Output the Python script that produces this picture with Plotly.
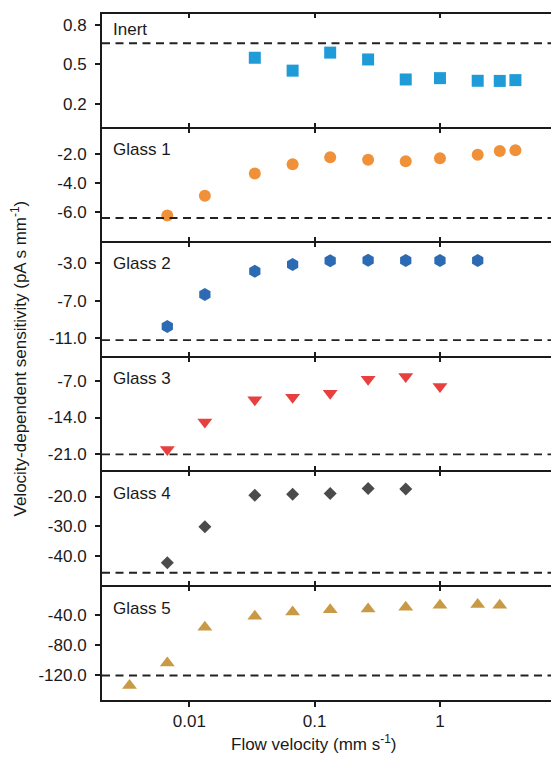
import plotly.graph_objects as go
from plotly.subplots import make_subplots

# ---- data -------------------------------------------------------------
panel_names = ["Inert", "Glass 1", "Glass 2", "Glass 3", "Glass 4", "Glass 5"]

inert_x = [0.0333, 0.0667, 0.133, 0.267, 0.533, 1.0, 2.0, 3.0, 4.0]
inert_y = [0.55, 0.452, 0.589, 0.537, 0.385, 0.395, 0.375, 0.374, 0.38]

glass1_x = [0.00667, 0.0133, 0.0333, 0.0667, 0.133, 0.267, 0.533, 1.0, 2.0, 3.0, 4.0]
glass1_y = [-6.23, -4.87, -3.34, -2.71, -2.23, -2.39, -2.50, -2.30, -2.05, -1.79, -1.75]

glass2_x = [0.00667, 0.0133, 0.0333, 0.0667, 0.133, 0.267, 0.533, 1.0, 2.0]
glass2_y = [-9.76, -6.31, -3.82, -3.11, -2.72, -2.65, -2.68, -2.68, -2.68]

glass3_x = [0.00667, 0.0133, 0.0333, 0.0667, 0.133, 0.267, 0.533, 1.0]
glass3_y = [-20.07, -14.83, -10.61, -10.16, -9.40, -6.70, -6.19, -8.08]

glass4_x = [0.00667, 0.0133, 0.0333, 0.0667, 0.133, 0.267, 0.533]
glass4_y = [-42.3, -30.2, -19.56, -19.2, -19.0, -17.3, -17.5]

glass5_x = [0.00333, 0.00667, 0.0133, 0.0333, 0.0667, 0.133, 0.267, 0.533, 1.0, 2.0, 3.0]
glass5_y = [-133.6, -103.9, -56.7, -42.2, -36.3, -33.4, -32.5, -30.3, -27.4, -26.4, -27.4]

# static (zero-velocity) sensitivity of each electrode, drawn as dashed lines
static_level = [0.66, -6.4, -11.2, -21.0, -45.7, -120.5]

x_tickvals = [0.01, 0.1, 1]
x_ticktext = ["0.01", "0.1", "1"]

y_tickvals = [
    [0.2, 0.5, 0.8],
    [-6.0, -4.0, -2.0],
    [-11.0, -7.0, -3.0],
    [-21.0, -14.0, -7.0],
    [-40.0, -30.0, -20.0],
    [-120.0, -80.0, -40.0],
]
y_ticktext = [
    ["0.2", "0.5", "0.8"],
    ["-6.0", "-4.0", "-2.0"],
    ["-11.0", "-7.0", "-3.0"],
    ["-21.0", "-14.0", "-7.0"],
    ["-40.0", "-30.0", "-20.0"],
    ["-120.0", "-80.0", "-40.0"],
]

# ---- styling ----------------------------------------------------------
FONT = "Liberation Sans, Arial, Helvetica, sans-serif"
INK = "#1a1a1a"
FS = 17

series = [
    (inert_x, inert_y, "square", 12, "#1f9bd7"),
    (glass1_x, glass1_y, "circle", 12, "#f0913a"),
    (glass2_x, glass2_y, "hexagon", 13, "#2c6bb4"),
    (glass3_x, glass3_y, "triangle-down", 13, "#e6403f"),
    (glass4_x, glass4_y, "diamond", 10, "#4b4b4b"),
    (glass5_x, glass5_y, "triangle-up", 13, "#c99a46"),
]

y_ranges = [
    [0.02, 0.89],
    [-8.05, -0.18],
    [-12.96, -0.70],
    [-24.16, -2.4],
    [-50.0, -11.4],
    [-152.9, -1.4],
]
label_y = [0.855, 0.808, 0.808, 0.806, 0.803, 0.8]

x_range = [-2.697, 0.886]

fig = make_subplots(rows=6, cols=1, vertical_spacing=0)

for i, (xs, ys, sym, size, color) in enumerate(series):
    row = i + 1
    fig.add_trace(
        go.Scatter(
            x=xs, y=ys, mode="markers",
            marker=dict(symbol=sym, size=size, color=color, line=dict(width=0)),
            showlegend=False, cliponaxis=False,
        ),
        row=row, col=1,
    )
    fig.add_hline(
        y=static_level[i], row=row, col=1,
        line=dict(color="#222222", width=1.8, dash="8px,5.5px"),
    )

    axis_common = dict(
        type="log", range=x_range, autorange=False,
        showgrid=False, zeroline=False,
        showline=True, linecolor=INK,
        tickvals=x_tickvals, ticktext=x_ticktext,
        tickwidth=2, ticklen=5, tickcolor=INK,
    )
    if row < 6:
        # 1px lines: the bottom line of one panel and the top line of the
        # next sit side by side, giving a 2px separator with crossing ticks
        axis_common.update(linewidth=1, mirror="ticks", ticks="inside",
                           showticklabels=False)
    else:
        # last panel: bottom axis with labels and outward ticks
        axis_common.update(linewidth=2, mirror=False, ticks="outside",
                           showticklabels=True,
                           tickfont=dict(family=FONT, size=FS, color=INK))
    fig.update_xaxes(row=row, col=1, **axis_common)

    fig.update_yaxes(
        row=row, col=1,
        range=y_ranges[i], autorange=False,
        showgrid=False, zeroline=False,
        showline=True, linecolor=INK, linewidth=2, mirror=False,
        tickvals=y_tickvals[i], ticktext=y_ticktext[i],
        ticks="outside", ticklen=5, tickwidth=2, tickcolor=INK,
        ticklabelstandoff=5,
        tickfont=dict(family=FONT, size=FS, color=INK),
    )

    fig.add_annotation(
        text=panel_names[i],
        xref=f"x{'' if row == 1 else row} domain",
        yref=f"y{'' if row == 1 else row} domain",
        x=0.02, y=label_y[i], xanchor="left", yanchor="middle",
        showarrow=False, font=dict(family=FONT, size=FS, color=INK),
    )

# top edge of the last panel: inward ticks on a 1px line
fig.update_layout(
    xaxis7=dict(
        type="log", range=x_range, autorange=False,
        overlaying="x6", anchor="y6", side="top",
        showgrid=False, zeroline=False,
        showline=True, linecolor=INK, linewidth=1,
        tickvals=x_tickvals, ticktext=x_ticktext, showticklabels=False,
        ticks="inside", ticklen=5, tickwidth=2, tickcolor=INK,
    )
)
fig.add_trace(go.Scatter(x=[], y=[], xaxis="x7", yaxis="y6",
                         showlegend=False, hoverinfo="skip"))

# top frame line of the first panel
fig.add_shape(
    type="line", xref="paper", yref="paper", x0=0, x1=1, y0=1, y1=1,
    line=dict(color=INK, width=2), layer="above",
)

fig.add_annotation(
    text="Flow velocity (mm s<sup>-1</sup>)",
    xref="paper", yref="paper", x=0.472, y=-0.0626,
    xanchor="center", yanchor="middle", showarrow=False,
    font=dict(family=FONT, size=FS, color=INK),
)
fig.add_annotation(
    text="Velocity-dependent sensitivity (pA s mm<sup>-1</sup>)",
    xref="paper", yref="paper", x=-0.185, y=0.497,
    xanchor="center", yanchor="middle", textangle=-90, showarrow=False,
    font=dict(family=FONT, size=FS, color=INK),
)

fig.update_layout(
    width=551, height=759,
    margin=dict(l=102, r=0, t=13, b=59),
    paper_bgcolor="white", plot_bgcolor="white",
    font=dict(family=FONT, size=FS, color=INK),
    showlegend=False,
)

fig.write_html("out.html")
